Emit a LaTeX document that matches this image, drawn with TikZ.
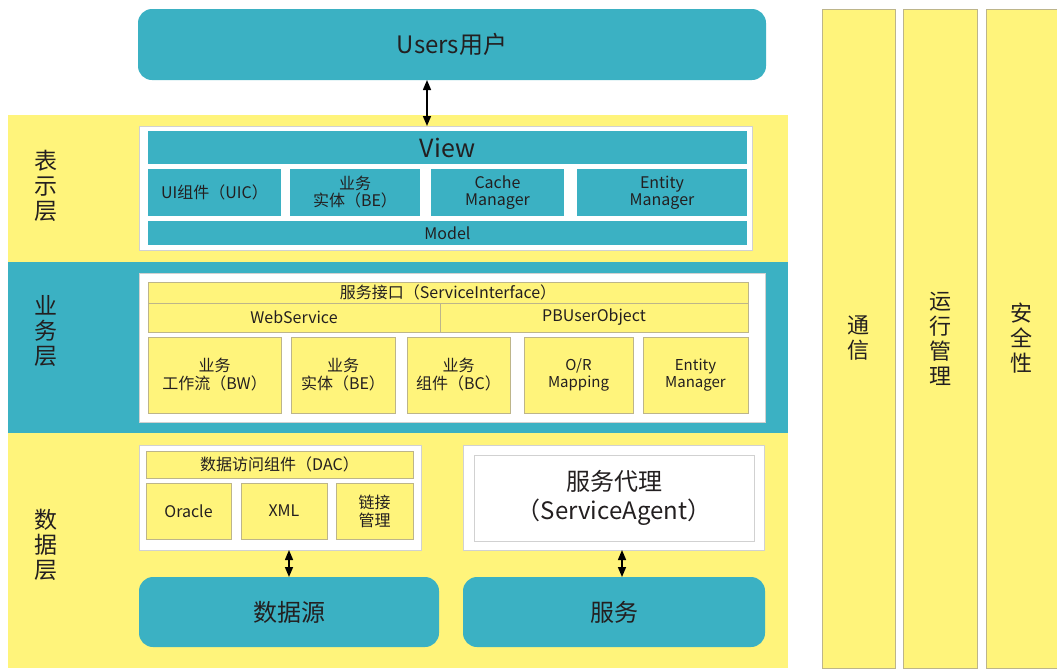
\documentclass[tikz,border=0pt]{standalone}
\usepackage{fontspec}
\setmainfont{Noto Sans CJK SC}
\usetikzlibrary{arrows.meta,calc}
\definecolor{yel}{HTML}{FFF47B}
\definecolor{tealc}{HTML}{3BB1C3}
\definecolor{txt}{HTML}{231F20}
\definecolor{bord}{HTML}{BDB58A}
\newcommand\bx[7]{\node[#6, minimum width={(#4)-(#2)}, minimum height={(#5)-(#3)}] (#1) at ({((#2)+(#4))/2},{((#3)+(#5))/2}) {#7};}
\tikzset{
  base/.style={inner sep=0pt, outer sep=0pt, align=center, text=txt},
  tealbox/.style={base, fill=tealc},
  yelbox/.style={base, fill=yel, draw=bord, line width=0.6pt},
  whitebox/.style={base, fill=white, draw=black!18, line width=0.9pt},
  band/.style={base, fill=yel},
  tband/.style={base, fill=tealc},
  rbox/.style={base, fill=tealc, rounded corners=14pt},
  colbox/.style={base, fill=yel, draw=bord, line width=0.8pt, font={\fontsize{22}{25}\selectfont}},
  lbl/.style={base, font={\fontsize{23}{25}\selectfont}},
  f24/.style={font={\fontsize{24}{29}\selectfont}},
  f16/.style={font={\fontsize{16}{18}\selectfont}},
  f15/.style={font={\fontsize{15}{17}\selectfont}},
  arr/.style={{Triangle[length=10pt,width=8pt]}-{Triangle[length=10pt,width=8pt]}, line width=1.5pt, black},
}
\begin{document}
\begin{tikzpicture}[x=1pt,y=-1pt]
\useasboundingbox (0,0) rectangle (1057,670);
% bands
\bx{bandP}{8}{115}{788}{262}{band}{}
\bx{bandB}{8}{262}{788}{433}{tband}{}
\bx{bandD}{8}{433}{788}{668}{band}{}
% layer labels
\node[lbl] (lP) at (46,186) {表\\示\\层};
\node[lbl] (lB) at (46,331) {业\\务\\层};
\node[lbl] (lD) at (46,545) {数\\据\\层};
% right columns
\bx{c1}{822}{9}{895}{668}{colbox}{通\\信}
\bx{c2}{903}{9}{977}{668}{colbox}{运\\行\\管\\理}
\bx{c3}{986}{9}{1057}{668}{colbox}{安\\全\\性}
% users
\bx{users}{138}{9}{766}{80}{rbox,f24}{Users用户}
% presentation layer
\bx{presW}{139}{126}{752}{250}{whitebox}{}
\bx{view}{148}{131}{747}{164}{tealbox,font={\fontsize{25}{25}\selectfont}}{View}
\bx{uic}{148}{169}{281}{216}{tealbox,f16}{UI组件（UIC）}
\bx{pbe}{290}{169}{420}{216}{tealbox,font={\fontsize{16}{17}\selectfont}}{业务\\实体（BE）}
\bx{cache}{431}{169}{564}{216}{tealbox,font={\fontsize{16}{17}\selectfont}}{Cache\\Manager}
\bx{pem}{577}{169}{747}{216}{tealbox,font={\fontsize{16}{17}\selectfont}}{Entity\\Manager}
\bx{model}{148}{221}{747}{245}{tealbox,f16}{Model}
% business layer
\bx{busW}{139}{273}{765}{422}{whitebox}{}
\bx{si}{148}{282}{748}{303}{yelbox,f16}{服务接口（ServiceInterface）}
\bx{ws}{148}{303}{440}{332}{yelbox,f16}{WebService}
\bx{pbu}{440}{303}{748}{332}{yelbox,f16}{PBUserObject}
\bx{bw}{148}{337}{281}{413}{yelbox,f16}{业务\\工作流（BW）}
\bx{bbe}{291}{337}{395}{413}{yelbox,f16}{业务\\实体（BE）}
\bx{bc}{407}{337}{510}{413}{yelbox,f16}{业务\\组件（BC）}
\bx{orm}{524}{337}{633}{413}{yelbox,f15}{O/R\\Mapping}
\bx{bem}{643}{337}{748}{413}{yelbox,f15}{Entity\\Manager}
% data layer
\bx{dacW}{139}{445}{421}{550}{whitebox}{}
\bx{dac}{146}{451}{413}{478}{yelbox,f16}{数据访问组件（DAC）}
\bx{ora}{146}{483}{231}{539}{yelbox,f16}{Oracle}
\bx{xml}{241}{483}{327}{539}{yelbox,f16}{XML}
\bx{link}{336}{483}{413}{539}{yelbox,f16}{链接\\管理}
\bx{saW}{463}{445}{764}{550}{whitebox}{}
\bx{sa}{474}{455}{754}{541}{whitebox,f24}{服务代理\\（ServiceAgent）}
\bx{dsrc}{139}{577}{439}{647}{rbox,f24}{数据源}
\bx{svc}{463}{577}{765}{647}{rbox,f24}{服务}
% arrows
\coordinate (ax1) at (427,0);
\coordinate (ax2) at (289,0);
\coordinate (ax3) at (622,0);
\draw[arr] (users.south -| ax1) -- (presW.north -| ax1);
\draw[arr] (dacW.south -| ax2) -- (dsrc.north -| ax2);
\draw[arr] (saW.south -| ax3) -- (svc.north -| ax3);
\end{tikzpicture}
\end{document}
